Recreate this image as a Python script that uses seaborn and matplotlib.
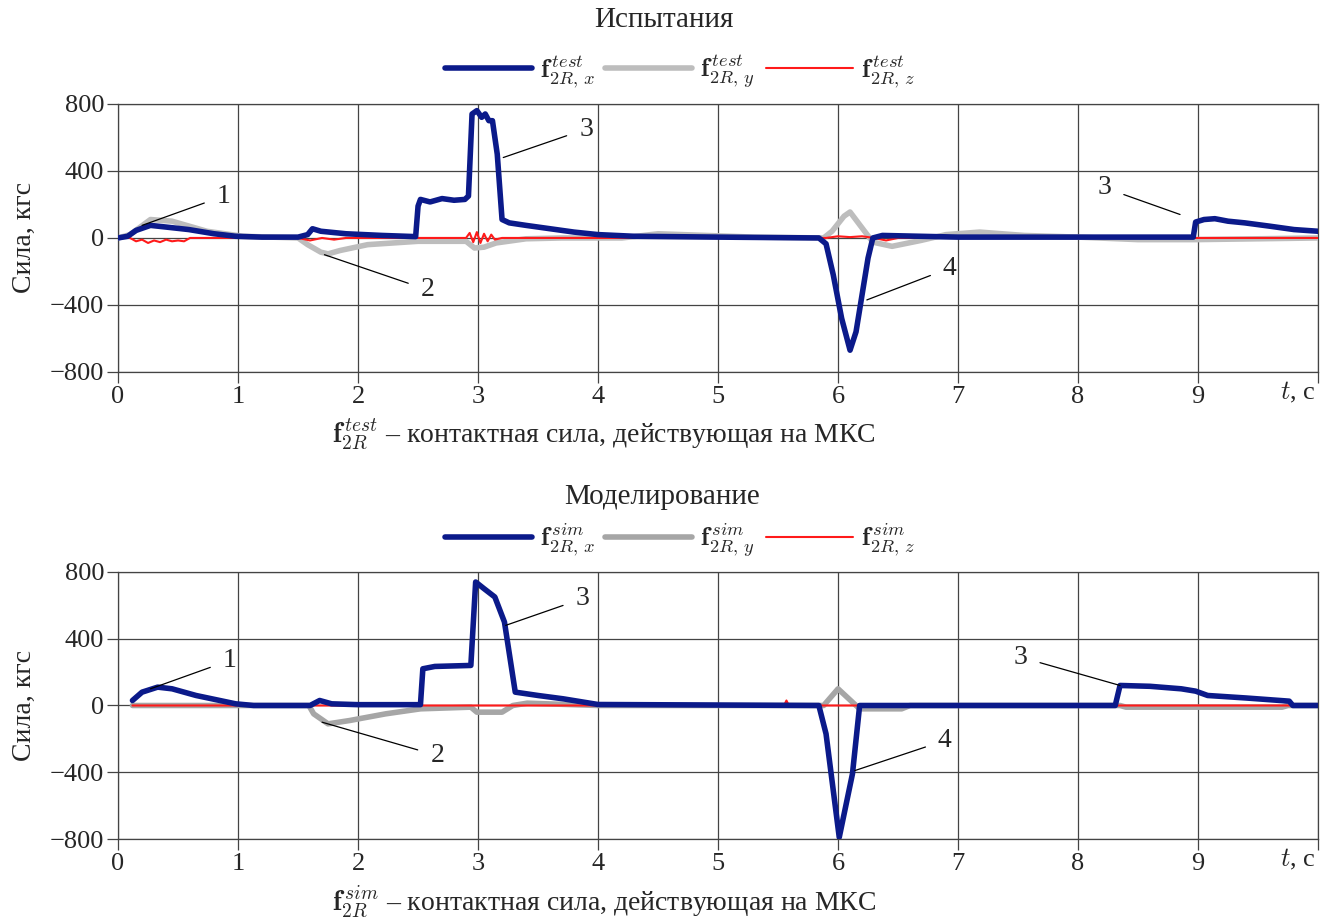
import pandas as pd
import matplotlib
matplotlib.use("Agg")
import matplotlib.pyplot as plt
import seaborn as sns

# --- Испытания (test) ---
test_t_x = [0, 0.08, 0.15, 0.27, 0.4, 0.59, 0.8, 0.98, 1.2, 1.5, 1.58, 1.62, 1.69, 1.9, 2.2,
            2.48, 2.5, 2.52, 2.6, 2.7, 2.8, 2.89, 2.92, 2.95, 2.99, 3.03, 3.06, 3.09, 3.12,
            3.16, 3.2, 3.26, 3.4, 3.6, 3.8, 4.0, 4.3, 5.0, 5.84, 5.9, 5.96, 6.03, 6.1, 6.15,
            6.2, 6.25, 6.29, 6.37, 7.0, 8.0, 8.96, 8.98, 9.05, 9.14, 9.25, 9.39, 9.6, 9.8, 10.0]
test_fx = [0, 10, 45, 75, 65, 50, 25, 10, 5, 5, 20, 55, 40, 25, 15,
           8, 190, 230, 215, 235, 225, 230, 250, 740, 760, 720, 740, 700, 700,
           500, 110, 90, 75, 55, 35, 20, 10, 5, 0, -35, -220, -480, -670, -560,
           -340, -120, 0, 15, 5, 5, 5, 95, 110, 115, 100, 90, 70, 50, 40]

test_t_y = [0, 0.1, 0.27, 0.45, 0.74, 1.04, 1.5, 1.58, 1.69, 1.75, 1.85, 2.08, 2.5, 2.9, 2.97,
            3.05, 3.15, 3.4, 3.7, 4.2, 4.5, 4.9, 5.3, 5.88, 5.95, 6.05, 6.1, 6.2, 6.29, 6.45,
            6.69, 6.9, 7.18, 7.55, 8.0, 8.5, 8.98, 9.5, 10.0]
test_fy = [0, 20, 110, 100, 40, 10, 0, -40, -85, -95, -75, -40, -20, -20, -60,
           -55, -30, -5, 0, 0, 25, 15, 5, 0, 40, 130, 155, 60, -25, -50,
           -15, 20, 35, 15, 5, -10, -10, -5, 0]

test_t_z = [0, 0.1, 0.15, 0.2, 0.25, 0.3, 0.35, 0.4, 0.45, 0.5, 0.55, 0.6, 1.5, 1.6, 1.7, 1.8,
            1.9, 2.0, 2.9, 2.93, 2.96, 2.99, 3.02, 3.05, 3.08, 3.11, 3.14, 3.2, 3.5, 5.9, 6.0,
            6.1, 6.2, 6.3, 6.4, 6.5, 7.0, 10.0]
test_fz = [0, 0, -20, -10, -30, -15, -25, -10, -20, -15, -20, 0, 0, -15, 0, -10,
           0, 0, 0, 30, -25, 35, -30, 25, -20, 20, -10, 0, 0, 0, 10,
           5, 10, 0, -15, 0, 0, 0]

# --- Моделирование (sim) ---
sim_t_x = [0.12, 0.2, 0.33, 0.45, 0.65, 0.98, 1.13, 1.6, 1.68, 1.78, 2.0, 2.52, 2.54, 2.64,
           2.94, 2.98, 3.05, 3.14, 3.22, 3.31, 3.5, 3.71, 4.0, 5.84, 5.9, 6.01, 6.12, 6.18,
           8.31, 8.35, 8.6, 8.86, 8.98, 9.08, 9.4, 9.76, 9.79, 10.0]
sim_fx = [30, 80, 110, 100, 60, 10, 0, 0, 30, 10, 5, 5, 220, 234,
          240, 740, 700, 650, 500, 80, 60, 40, 6, 0, -170, -790, -410, 0,
          0, 120, 115, 100, 86, 60, 45, 26, 0, 0]

sim_t_y = [0.12, 1.59, 1.63, 1.75, 1.93, 2.23, 2.52, 2.94, 2.99, 3.2, 3.29, 3.41, 4.0,
           5.88, 6.0, 6.12, 6.18, 6.53, 6.6, 8.35, 8.4, 9.7, 9.75, 10.0]
sim_fy = [0, 0, -50, -110, -90, -50, -20, -10, -40, -40, 0, 14, 0,
          0, 100, 20, -20, -20, 0, 0, -10, -10, 0, 0]

sim_t_z = [0.12, 5.55, 5.57, 5.59, 10.0]
sim_fz = [0, 0, 30, 0, 0]

# annotation labels: (text, target t, target f, text t, text f)
test_notes = [("1", 0.2, 75, 0.88, 250), ("2", 1.72, -100, 2.58, -310),
              ("3", 3.21, 480, 3.9, 650), ("3", 8.85, 140, 8.22, 300),
              ("4", 6.24, -370, 6.93, -180)]
sim_notes = [("1", 0.27, 100, 0.93, 270), ("2", 1.7, -100, 2.66, -300),
             ("3", 3.23, 480, 3.87, 640), ("3", 8.35, 120, 7.52, 290),
             ("4", 6.14, -390, 6.89, -210)]

sns.set_style("ticks")
plt.rcParams["font.family"] = ["Liberation Serif", "DejaVu Serif"]
plt.rcParams["mathtext.fontset"] = "cm"

blue = "#0b1a8a"
red = "#ff1a1a"

fig = plt.figure(figsize=(13.28, 9.23), dpi=100)
ax1 = fig.add_axes([0.0889, 0.597, 0.9036, 0.2904])
ax2 = fig.add_axes([0.0889, 0.091, 0.9036, 0.2893])


def draw(ax, tx, fx, ty, fy, tz, fz, tag, gray, notes):
    dx = pd.DataFrame({"t": tx, "f": fx})
    dy = pd.DataFrame({"t": ty, "f": fy})
    dz = pd.DataFrame({"t": tz, "f": fz})
    lab = lambda c: r"$\mathbf{f}^{\,%s}_{2R,\,%s}$" % (tag, c)
    sns.lineplot(data=dy, x="t", y="f", ax=ax, color=gray, lw=4, sort=False,
                 label=lab("y"), zorder=3)
    sns.lineplot(data=dz, x="t", y="f", ax=ax, color=red, lw=1.5, sort=False,
                 label=lab("z"), zorder=4)
    sns.lineplot(data=dx, x="t", y="f", ax=ax, color=blue, lw=4, sort=False,
                 label=lab("x"), zorder=5)
    h, l = ax.get_legend_handles_labels()
    order = [2, 0, 1]
    ax.legend([h[i] for i in order], [l[i] for i in order], ncol=3, frameon=False,
              loc="center", bbox_to_anchor=(0.468, 1.12), fontsize=19,
              handlelength=3.3, columnspacing=0.4, handletextpad=0.3)
    ax.set_xlim(0, 10)
    ax.set_ylim(-800, 800)
    ax.set_xticks(range(0, 11))
    ax.set_xticklabels([str(i) for i in range(10)] + [""], fontsize=19)
    ax.set_yticks([-800, -400, 0, 400, 800])
    ax.set_yticklabels(["\u2212800", "\u2212400", "0", "400", "800"], fontsize=19)
    ax.grid(True, color="#444444", lw=0.9)
    ax.tick_params(direction="out", length=8, width=0.9, color="#444444", pad=2)
    for s in ax.spines.values():
        s.set_visible(True)
        s.set_color("#444444")
        s.set_linewidth(0.9)
    ax.text(9.83, -850, r"$t$, c", ha="center", va="top", fontsize=19)
    ax.set_xlabel(r"$\mathbf{f}^{\,%s}_{2R}$ – контактная сила, действующая на МКС" % tag,
                  fontsize=20)
    ax.xaxis.set_label_coords(0.405, -0.17)
    ax.set_ylabel("Сила, кгс", fontsize=20)
    ax.yaxis.set_label_coords(-0.068, 0.5)
    for txt, xt, yt, xx, yy in notes:
        ax.annotate(txt, xy=(xt, yt), xytext=(xx, yy), fontsize=20, ha="center",
                    va="center", zorder=6,
                    arrowprops=dict(arrowstyle="-", color="black", lw=0.9,
                                    shrinkA=7, shrinkB=0))


draw(ax1, test_t_x, test_fx, test_t_y, test_fy, test_t_z, test_fz, "test", "#bdbdbd", test_notes)
draw(ax2, sim_t_x, sim_fx, sim_t_y, sim_fy, sim_t_z, sim_fz, "sim", "#a6a6a6", sim_notes)

fig.text(664 / 1328, 1 - 20 / 923, "Испытания", ha="center", va="center", fontsize=21)
fig.text(662 / 1328, 1 - 497 / 923, "Моделирование", ha="center", va="center", fontsize=21)

fig.savefig("out.png", dpi=100)
